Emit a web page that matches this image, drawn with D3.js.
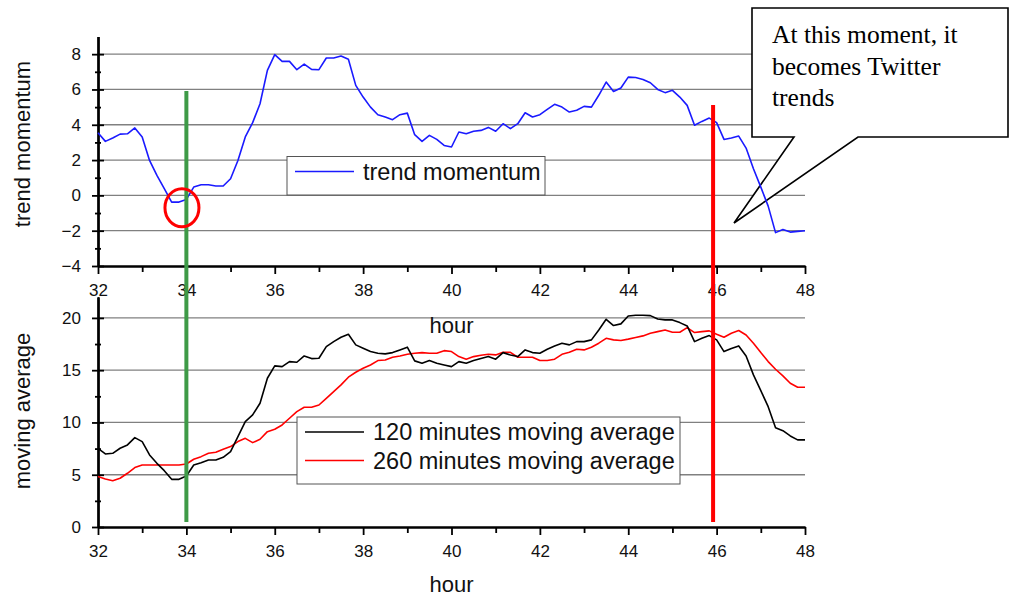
<!DOCTYPE html>
<html>
<head>
<meta charset="utf-8">
<script src="https://d3js.org/d3.v7.min.js"></script>
<style>
  body { margin: 0; background: #fff; }
  svg { display: block; font-family: "Liberation Sans", Arial, sans-serif; }
  .grid line { stroke: #808080; stroke-width: 1.3; }
  .axis path, .axis line { stroke: #000; stroke-width: 1.8; }
  .axis text { font-size: 17px; fill: #111; }
</style>
</head>
<body>
<div id="chart"></div>
<script>
// samples every 10 minutes, from hour 32 to hour 48
const hours = d3.range(97).map(i => 32 + i / 6);

const momentum = [
  3.55, 3.06, 3.25, 3.47, 3.49, 3.82, 3.31, 1.98, 1.13, 0.38, -0.38, -0.38,
  -0.23, 0.47, 0.60, 0.60, 0.53, 0.53, 0.94, 1.98, 3.31, 4.12, 5.19, 7.08,
  7.97, 7.59, 7.59, 7.12, 7.44, 7.14, 7.12, 7.78, 7.78, 7.89, 7.71, 6.23,
  5.57, 5.00, 4.57, 4.44, 4.29, 4.57, 4.66, 3.44, 3.06, 3.40, 3.17, 2.83,
  2.74, 3.59, 3.49, 3.63, 3.68, 3.85, 3.63, 4.06, 3.78, 4.06, 4.68, 4.44,
  4.57, 4.87, 5.16, 5.00, 4.72, 4.82, 5.04, 5.00, 5.67, 6.42, 5.89, 6.08,
  6.70, 6.68, 6.57, 6.38, 6.00, 5.82, 5.95, 5.57, 5.10, 3.97, 4.19, 4.38,
  4.12, 3.17, 3.25, 3.36, 2.68, 1.51, 0.47, -0.61, -2.11, -1.93, -2.08, -2.04,
  -2.00
];

const ma120 = [
  7.53, 6.99, 7.05, 7.53, 7.85, 8.55, 8.17, 6.89, 6.09, 5.39, 4.56, 4.56,
  4.88, 5.93, 6.15, 6.41, 6.41, 6.67, 7.21, 8.64, 10.08, 10.72, 11.84, 14.23,
  15.41, 15.34, 15.82, 15.76, 16.36, 16.11, 16.14, 17.25, 17.73, 18.15, 18.44, 17.42,
  17.10, 16.78, 16.62, 16.56, 16.68, 16.94, 17.20, 15.89, 15.66, 15.92, 15.66, 15.50,
  15.34, 15.82, 15.66, 15.92, 16.11, 16.30, 16.05, 16.68, 16.46, 16.30, 16.94, 16.68,
  16.62, 17.00, 17.32, 17.58, 17.42, 17.73, 17.73, 17.90, 18.85, 19.87, 19.27, 19.43,
  20.19, 20.26, 20.26, 20.22, 19.90, 19.81, 19.81, 19.55, 19.23, 17.73, 18.05, 18.31,
  17.90, 16.78, 17.07, 17.32, 16.36, 14.55, 13.04, 11.51, 9.50, 9.21, 8.71, 8.33,
  8.33
];

const ma260 = [
  4.82, 4.59, 4.43, 4.66, 5.14, 5.68, 5.93, 5.93, 5.93, 5.93, 5.93, 5.93,
  6.03, 6.48, 6.73, 7.05, 7.15, 7.44, 7.69, 8.17, 8.48, 8.07, 8.39, 9.12,
  9.35, 9.76, 10.40, 11.03, 11.45, 11.45, 11.67, 12.31, 12.95, 13.59, 14.33, 14.80,
  15.19, 15.50, 15.92, 15.98, 16.24, 16.36, 16.52, 16.62, 16.68, 16.62, 16.62, 16.87,
  16.78, 16.30, 16.05, 16.30, 16.43, 16.52, 16.46, 16.71, 16.71, 16.24, 16.24, 16.24,
  15.92, 15.92, 16.05, 16.52, 16.71, 17.00, 16.94, 17.20, 17.58, 18.05, 17.90, 17.84,
  17.97, 18.12, 18.28, 18.53, 18.69, 18.85, 18.63, 18.63, 19.07, 18.60, 18.69, 18.76,
  18.44, 18.15, 18.53, 18.79, 18.37, 17.58, 16.68, 15.82, 15.09, 14.45, 13.75, 13.37,
  13.37
];

const hourTicks = [32, 34, 36, 38, 40, 42, 44, 46, 48];
const hourMinor = [33, 35, 37, 39, 41, 43, 45, 47];
const momentumTicks = [-4, -2, 0, 2, 4, 6, 8];
const momentumMinor = [-3, -1, 1, 3, 5, 7];
const maTicks = [0, 5, 10, 15, 20];
const maMinor = [2.5, 7.5, 12.5, 17.5];

const riseHour = 34;      // green marker
const trendHour = 45.92;  // red marker: becomes Twitter trend
const calloutLines = ["At this moment, it", "becomes Twitter", "trends"];

const W = 1012, H = 598;
const svg = d3.select("#chart").append("svg").attr("width", W).attr("height", H);
svg.append("rect").attr("width", W).attr("height", H).attr("fill", "#fff");

const x = d3.scaleLinear().domain([32, 48]).range([98, 805]);
const yTop = d3.scaleLinear().domain([-4, 9]).range([266, 36.5]);
const yBot = d3.scaleLinear().domain([0, 22]).range([527, 297]);

// grid lines
function grid(y, vals) {
  svg.append("g").attr("class", "grid")
    .selectAll("line").data(vals).join("line")
    .attr("x1", x(32)).attr("x2", x(48))
    .attr("y1", d => y(d)).attr("y2", d => y(d));
}
grid(yTop, [-2, 0, 2, 4, 6, 8]);
grid(yBot, [5, 10, 15, 20]);

// axes
function axes(y, yMajor, yMinor, y0) {
  svg.append("g").attr("class", "axis")
    .attr("transform", "translate(" + x(32) + ",0)")
    .call(d3.axisLeft(y).tickValues(yMajor).tickSize(6).tickSizeOuter(0).tickPadding(11));
  svg.append("g").attr("class", "axis")
    .attr("transform", "translate(" + x(32) + ",0)")
    .call(d3.axisRight(y).tickValues(yMajor).tickSize(6).tickSizeOuter(0).tickFormat(""));
  svg.append("g").attr("class", "axis")
    .attr("transform", "translate(" + x(32) + ",0)")
    .call(d3.axisLeft(y).tickValues(yMinor).tickSize(3).tickSizeOuter(0).tickFormat(""));
  svg.append("g").attr("class", "axis")
    .attr("transform", "translate(" + x(32) + ",0)")
    .call(d3.axisRight(y).tickValues(yMinor).tickSize(3).tickSizeOuter(0).tickFormat(""));

  svg.append("g").attr("class", "axis")
    .attr("transform", "translate(0," + y0 + ")")
    .call(d3.axisBottom(x).tickValues(hourTicks).tickSize(8).tickSizeOuter(0).tickPadding(10));
  svg.append("g").attr("class", "axis")
    .attr("transform", "translate(0," + y0 + ")")
    .call(d3.axisBottom(x).tickValues(hourMinor).tickSize(6).tickSizeOuter(0).tickFormat(""));
}
axes(yTop, momentumTicks, momentumMinor, yTop(-4));
axes(yBot, maTicks, maMinor, yBot(0));

// axis titles
svg.append("text").attr("transform", "translate(30,144) rotate(-90)")
  .attr("text-anchor", "middle").attr("font-size", 22).attr("fill", "#111").text("trend momentum");
svg.append("text").attr("transform", "translate(30,411) rotate(-90)")
  .attr("text-anchor", "middle").attr("font-size", 22).attr("fill", "#111").text("moving average");
svg.append("text").attr("x", x(40)).attr("y", 333)
  .attr("text-anchor", "middle").attr("font-size", 22).attr("fill", "#111").text("hour");
svg.append("text").attr("x", x(40)).attr("y", 592)
  .attr("text-anchor", "middle").attr("font-size", 22).attr("fill", "#111").text("hour");

// callout box
const tip = [734, 223];
svg.append("path")
  .attr("d", "M752,8 H1008 V137 H858 L" + tip[0] + "," + tip[1] + " L794,137 H752 Z")
  .attr("fill", "#fff").attr("stroke", "#000").attr("stroke-width", 1.6);
svg.append("g").selectAll("text").data(calloutLines).join("text")
  .attr("x", 772).attr("y", (d, i) => 43 + i * 31.5)
  .attr("font-family", "'Liberation Serif', 'Times New Roman', serif")
  .attr("font-size", 25.5).attr("fill", "#000").text(d => d);

// data lines
function series(y, vals, color) {
  svg.append("path")
    .datum(vals)
    .attr("fill", "none").attr("stroke", color).attr("stroke-width", 1.6)
    .attr("stroke-linejoin", "round")
    .attr("d", d3.line().x((d, i) => x(hours[i])).y(d => y(d)));
}
series(yTop, momentum, "#1a1aff");
series(yBot, ma260, "#ff0000");
series(yBot, ma120, "#000");

// legends
function legend(x0, y0, w, items) {
  const g = svg.append("g");
  g.append("rect").attr("x", x0).attr("y", y0).attr("width", w).attr("height", 10 + items.length * 28.5)
    .attr("fill", "#fff").attr("stroke", "#555").attr("stroke-width", 1);
  items.forEach((it, i) => {
    const cy = y0 + 15 + i * 28.5;
    g.append("line").attr("x1", x0 + 8).attr("x2", x0 + 67).attr("y1", cy).attr("y2", cy)
      .attr("stroke", it.color).attr("stroke-width", 1.6);
    g.append("text").attr("x", x0 + 76).attr("y", cy + 8).attr("font-size", 23.5)
      .attr("fill", "#111").text(it.label);
  });
}
legend(287, 156.5, 258, [{label: "trend momentum", color: "#1a1aff"}]);
legend(297, 417, 383, [
  {label: "120 minutes moving average", color: "#000"},
  {label: "260 minutes moving average", color: "#ff0000"}
]);

// markers
svg.append("line").attr("x1", x(riseHour)).attr("x2", x(riseHour))
  .attr("y1", 91).attr("y2", 522).attr("stroke", "#3e9a47").attr("stroke-width", 4);
svg.append("line").attr("x1", x(trendHour)).attr("x2", x(trendHour))
  .attr("y1", 105).attr("y2", 522).attr("stroke", "#ff0000").attr("stroke-width", 4);
svg.append("ellipse").attr("cx", x(33.9)).attr("cy", yTop(-0.7)).attr("rx", 17).attr("ry", 19)
  .attr("fill", "none").attr("stroke", "#ff0000").attr("stroke-width", 3);
</script>
</body>
</html>
